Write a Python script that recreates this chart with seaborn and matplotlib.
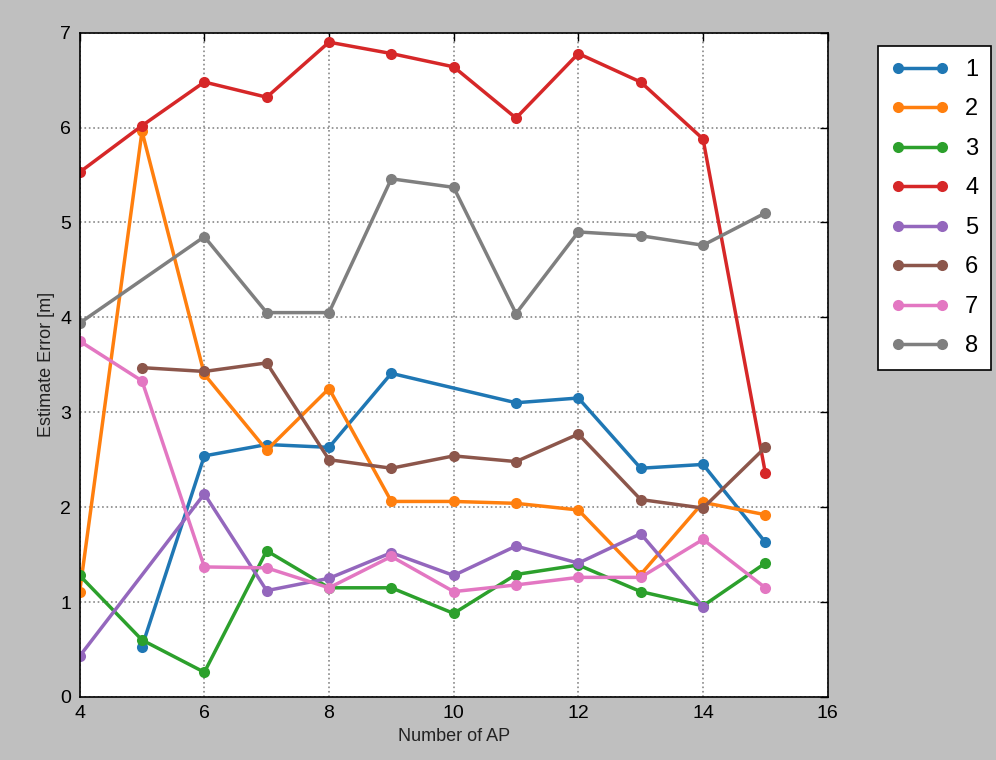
import numpy as np
import pandas as pd
import matplotlib
matplotlib.use("Agg")
import matplotlib.pyplot as plt
import seaborn as sns

labels = ["1", "2", "3", "4", "5", "6", "7", "8"]

x1 = [5, 6, 7, 8, 9, 11, 12, 13, 14, 15]
y1 = [0.53, 2.54, 2.66, 2.63, 3.41, 3.10, 3.15, 2.41, 2.45, 1.63]
x2 = [4, 5, 6, 7, 8, 9, 10, 11, 12, 13, 14, 15]
y2 = [1.11, 5.96, 3.40, 2.60, 3.25, 2.06, 2.06, 2.04, 1.97, 1.29, 2.05, 1.92]
x3 = [4, 5, 6, 7, 8, 9, 10, 11, 12, 13, 14, 15]
y3 = [1.28, 0.60, 0.26, 1.54, 1.15, 1.15, 0.88, 1.29, 1.39, 1.11, 0.96, 1.41]
x4 = [4, 5, 6, 7, 8, 9, 10, 11, 12, 13, 14, 15]
y4 = [5.53, 6.02, 6.48, 6.32, 6.90, 6.78, 6.64, 6.10, 6.78, 6.48, 5.88, 2.36]
x5 = [4, 6, 7, 8, 9, 10, 11, 12, 13, 14]
y5 = [0.43, 2.14, 1.12, 1.25, 1.52, 1.28, 1.59, 1.41, 1.72, 0.95]
x6 = [5, 6, 7, 8, 9, 10, 11, 12, 13, 14, 15]
y6 = [3.47, 3.43, 3.52, 2.50, 2.41, 2.54, 2.48, 2.77, 2.08, 1.99, 2.63]
x7 = [4, 5, 6, 7, 8, 9, 10, 11, 12, 13, 14, 15]
y7 = [3.75, 3.33, 1.37, 1.36, 1.15, 1.48, 1.11, 1.18, 1.26, 1.26, 1.66, 1.15]
x8 = [4, 6, 7, 8, 9, 10, 11, 12, 13, 14, 15]
y8 = [3.94, 4.85, 4.05, 4.05, 5.46, 5.37, 4.04, 4.90, 4.86, 4.76, 5.10]

xs = [x1, x2, x3, x4, x5, x6, x7, x8]
ys = [y1, y2, y3, y4, y5, y6, y7, y8]

frames = []
for lab, xv, yv in zip(labels, xs, ys):
    frames.append(pd.DataFrame({"AP": xv, "err": yv, "series": lab}))
df = pd.concat(frames, ignore_index=True)

sns.set_style("white")
plt.rcParams["font.family"] = ["Liberation Sans", "DejaVu Sans"]
plt.rcParams["text.color"] = "black"
plt.rcParams["axes.labelcolor"] = "black"

fig = plt.figure(figsize=(9.96, 7.60), dpi=100, facecolor="#bfbfbf")
ax = fig.add_axes([0.080, 0.083, 0.751, 0.874])
ax.set_facecolor("white")

palette = sns.color_palette("tab10", 8)
sns.lineplot(data=df, x="AP", y="err", hue="series", hue_order=labels,
             palette=palette, marker="o", markersize=8, markeredgewidth=0,
             linewidth=2.5, sort=False, estimator=None, legend=False, ax=ax)

ax.set_xlim(4, 16)
ax.set_ylim(0, 7)
ax.set_xticks(np.arange(4, 17, 2))
ax.set_yticks(np.arange(0, 8, 1))
ax.tick_params(direction="in", top=True, right=True, length=6, width=1,
               labelsize=14, colors="black", pad=6)
ax.grid(True, linestyle=":", color="#888888", linewidth=1.2)
for sp in ax.spines.values():
    sp.set_visible(True)
    sp.set_color("black")
    sp.set_linewidth(1.2)
ax.set_xlabel("Number of AP", fontsize=13, color="#222222")
ax.set_ylabel("Estimate Error [m]", fontsize=13, color="#222222")

handles = ax.get_lines()[:8]
leg = fig.legend(handles, labels, loc="upper left",
                 bbox_to_anchor=(878 / 996, 1 - 46 / 760),
                 numpoints=2, handlelength=2.46, fontsize=17,
                 frameon=True, fancybox=False, borderaxespad=0,
                 labelspacing=0.74, handletextpad=0.68, borderpad=0.55,
                 framealpha=1)
leg.get_frame().set_edgecolor("black")
leg.get_frame().set_linewidth(1.2)
leg.get_frame().set_facecolor("white")

fig.savefig("out.png", dpi=100, facecolor=fig.get_facecolor())
